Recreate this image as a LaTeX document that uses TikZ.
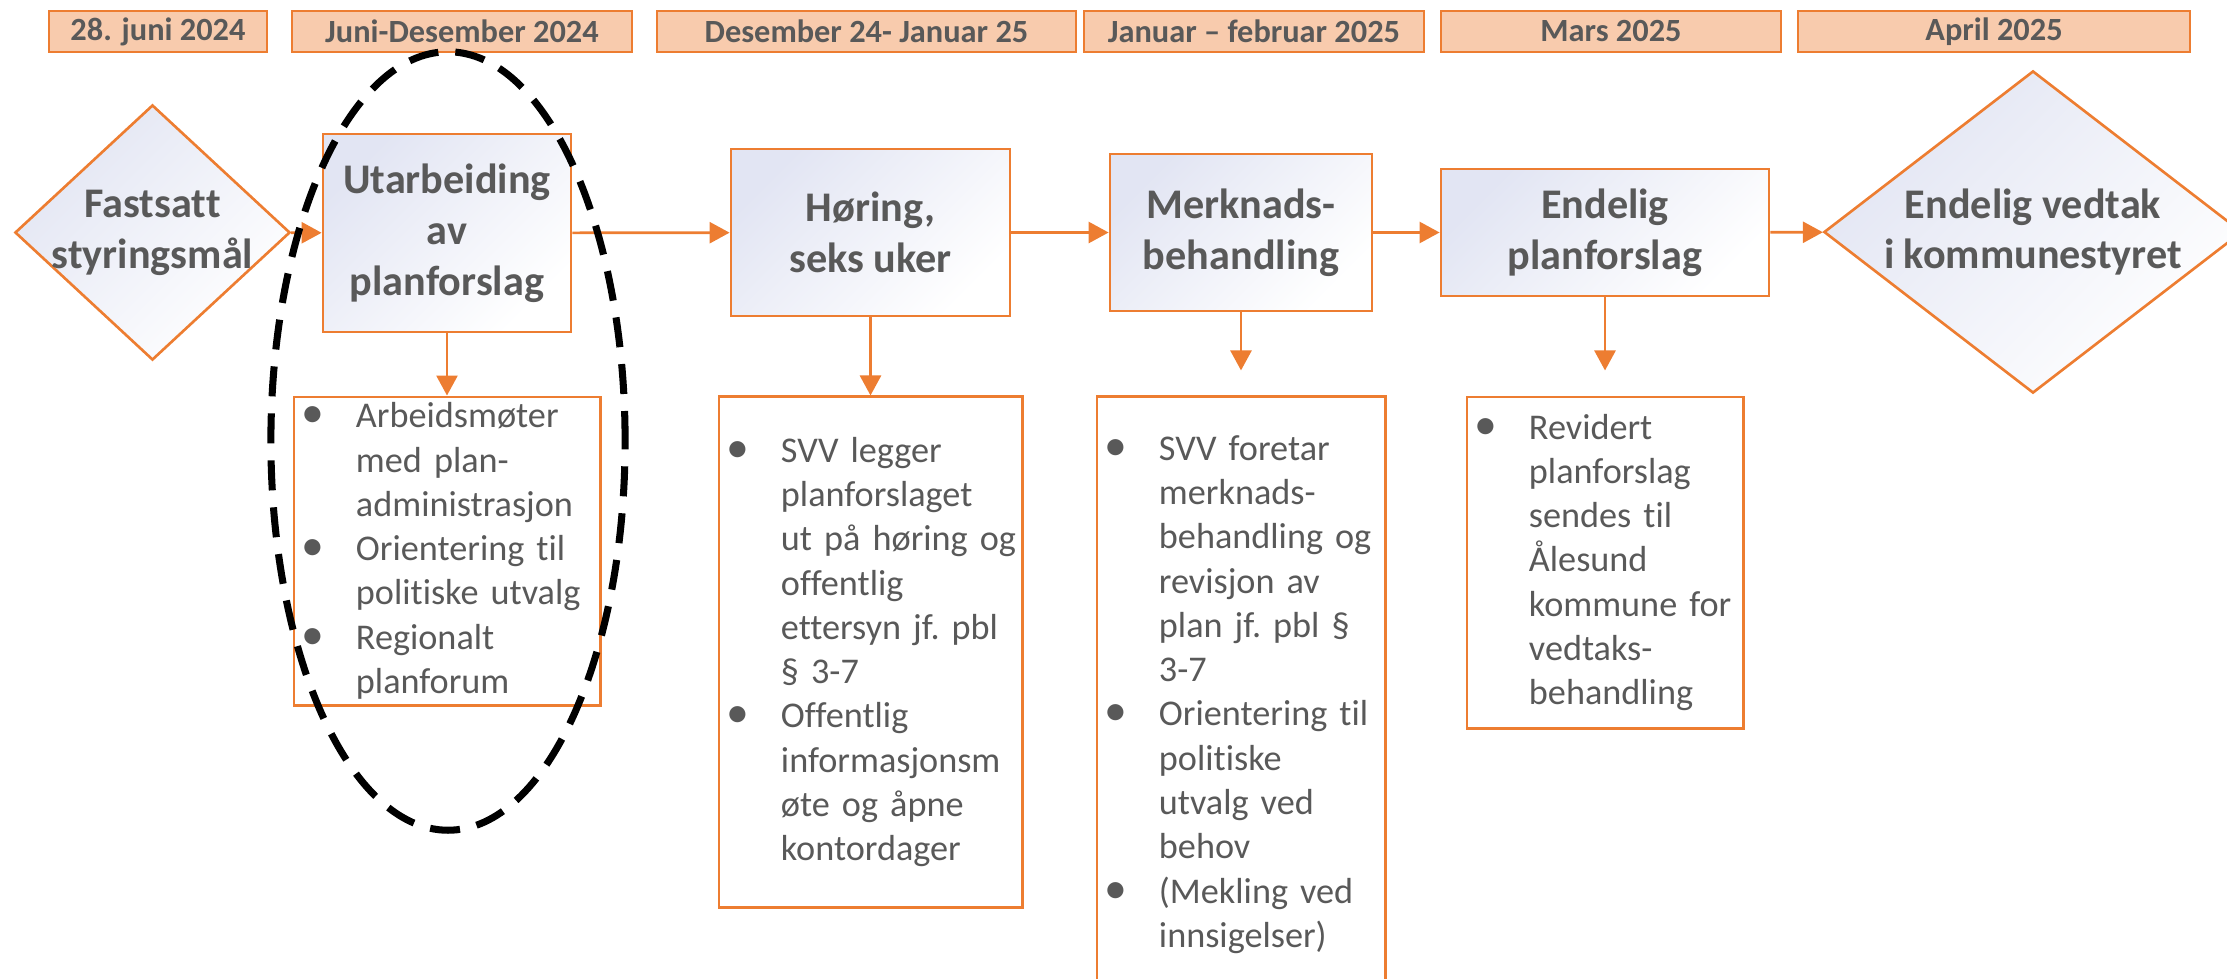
\documentclass[tikz,border=0pt]{standalone}
\usepackage{fontspec}
\setmainfont{Carlito}[Ligatures=NoCommon]
\usetikzlibrary{shapes,arrows.meta,positioning}
\definecolor{oransje}{HTML}{ED7D31}
\definecolor{fersken}{HTML}{F8CBAD}
\definecolor{graatekst}{HTML}{595959}
\definecolor{lysblaa}{HTML}{E2E5F3}
\newcommand{\pkt}{\hspace*{0.08cm}\makebox[0.54cm][l]{\fontsize{13}{0}\selectfont\textbullet}}
\newcommand{\inn}{\hspace*{0.62cm}}
\tikzset{
    -{Triangle[length=0.2cm,width=0.21cm]},auto,
    periode/.style ={rectangle, draw=oransje, fill=fersken, line width=0.6pt, minimum height=0.41cm, inner sep=0pt, text=graatekst, font=\bfseries\fontsize{9.2}{11}\selectfont},
    steg/.style ={rectangle, draw=oransje, line width=0.75pt, top color=lysblaa, bottom color=white, shading angle=45, inner sep=0pt, text=graatekst, align=center, font=\bfseries\fontsize{12}{14.5}\selectfont},
    beslutning/.style ={diamond, draw=oransje, line width=0.75pt, top color=lysblaa, bottom color=white, shading angle=45, inner sep=0pt},
    tittel/.style ={text=graatekst, align=center, font=\bfseries\fontsize{12}{14.5}\selectfont},
    liste/.style ={rectangle, draw=oransje, line width=0.8pt, inner sep=0pt, align=left, text=graatekst, font=\frenchspacing\fontsize{10.3}{12.6}\selectfont},
    pil/.style ={color=oransje, line width=0.77pt},
    markering/.style ={ellipse, draw=black, line width=2pt, dash pattern=on 0.3cm off 0.17cm}
}
\begin{document}
\begin{tikzpicture}[x=0.01cm,y=-0.01cm]
    \useasboundingbox (0,0) rectangle (2227,978);
    \clip (0,0) rectangle (2227,978);

    % tidslinje
    \node[periode, minimum width=2.18cm] (p1) at (158,31.5) {28. juni 2024};
    \node[periode, minimum width=3.40cm] (p2) at (462,31.5) {Juni-Desember 2024};
    \node[periode, minimum width=4.19cm] (p3) at (866.5,31.5) {Desember 24- Januar 25};
    \node[periode, minimum width=3.40cm] (p4) at (1254,31.5) {Januar – februar 2025};
    \node[periode, minimum width=3.40cm] (p5) at (1611,31.5) {Mars 2025};
    \node[periode, minimum width=3.92cm] (p6) at (1994,31.5) {April 2025};

    % hovedsteg
    \node[beslutning, minimum width=2.75cm, minimum height=2.55cm,
          label={[tittel, name=tfastsatt]center:Fastsatt\\styringsmål}] (fastsatt) at (152.5,232.5) {};
    \node[steg, minimum width=2.48cm, minimum height=1.98cm] (utarbeiding) at (447,233) {Utarbeiding\\av\\planforslag};
    \node[steg, minimum width=2.79cm, minimum height=1.67cm] (hoering) at (870.5,232.5) {Høring,\\seks uker};
    \node[steg, minimum width=2.62cm, minimum height=1.57cm] (merknad) at (1241,232.5) {Merknads-\\behandling};
    \node[steg, minimum width=3.28cm, minimum height=1.27cm] (endelig) at (1605,232.5) {Endelig\\planforslag};
    \node[beslutning, minimum width=4.18cm, minimum height=3.22cm,
          label={[tittel, name=tvedtak]center:Endelig vedtak\\i kommunestyret}] (vedtak) at (2033,232) {};

    % lister
    \node[liste, text width=3.06cm, minimum height=3.08cm] (liste1) at (447,551) {\pkt Arbeidsmøter\\ \inn med plan-\\ \inn administrasjon\\ \pkt Orientering til\\ \inn politiske utvalg\\ \pkt Regionalt\\ \inn planforum};
    \node[liste, text width=3.03cm, minimum height=5.10cm] (liste2) at (870.5,652) {\pkt SVV legger\\ \inn planforslaget\\ \inn ut på høring og\\ \inn offentlig\\ \inn ettersyn jf. pbl\\ \inn § 3-7\\ \pkt Offentlig\\ \inn informasjonsm\\ \inn øte og åpne\\ \inn kontordager};
    \node[liste, text width=2.88cm, minimum height=5.95cm] (liste3) at (1241,694.5) {\pkt SVV foretar\\ \inn merknads-\\ \inn behandling og\\ \inn revisjon av\\ \inn plan jf. pbl §\\ \inn 3-7\\ \pkt Orientering til\\ \inn politiske\\ \inn utvalg ved\\ \inn behov\\ \pkt (Mekling ved\\ \inn innsigelser)};
    \node[liste, text width=2.76cm, minimum height=3.31cm] (liste4) at (1605,562.5) {\pkt Revidert\\ \inn planforslag\\ \inn sendes til\\ \inn Ålesund\\ \inn kommune for\\ \inn vedtaks-\\ \inn behandling};

    \path[pil] (fastsatt) edge (utarbeiding);
    \path[pil] (utarbeiding) edge (hoering);
    \path[pil] (hoering) edge (merknad);
    \path[pil] (merknad) edge (endelig);
    \path[pil] (endelig) edge (vedtak);
    \path[pil] (utarbeiding) edge (liste1);
    \path[pil] (hoering) edge (liste2);
    \path[pil] (merknad) edge[shorten >=0.25cm] (liste3);
    \path[pil] (endelig) edge[shorten >=0.25cm] (liste4);

    % markering rundt første fase
    \node[markering, minimum width=3.54cm, minimum height=7.78cm] (ramme) at (448,441) {};
\end{tikzpicture}
\end{document}
